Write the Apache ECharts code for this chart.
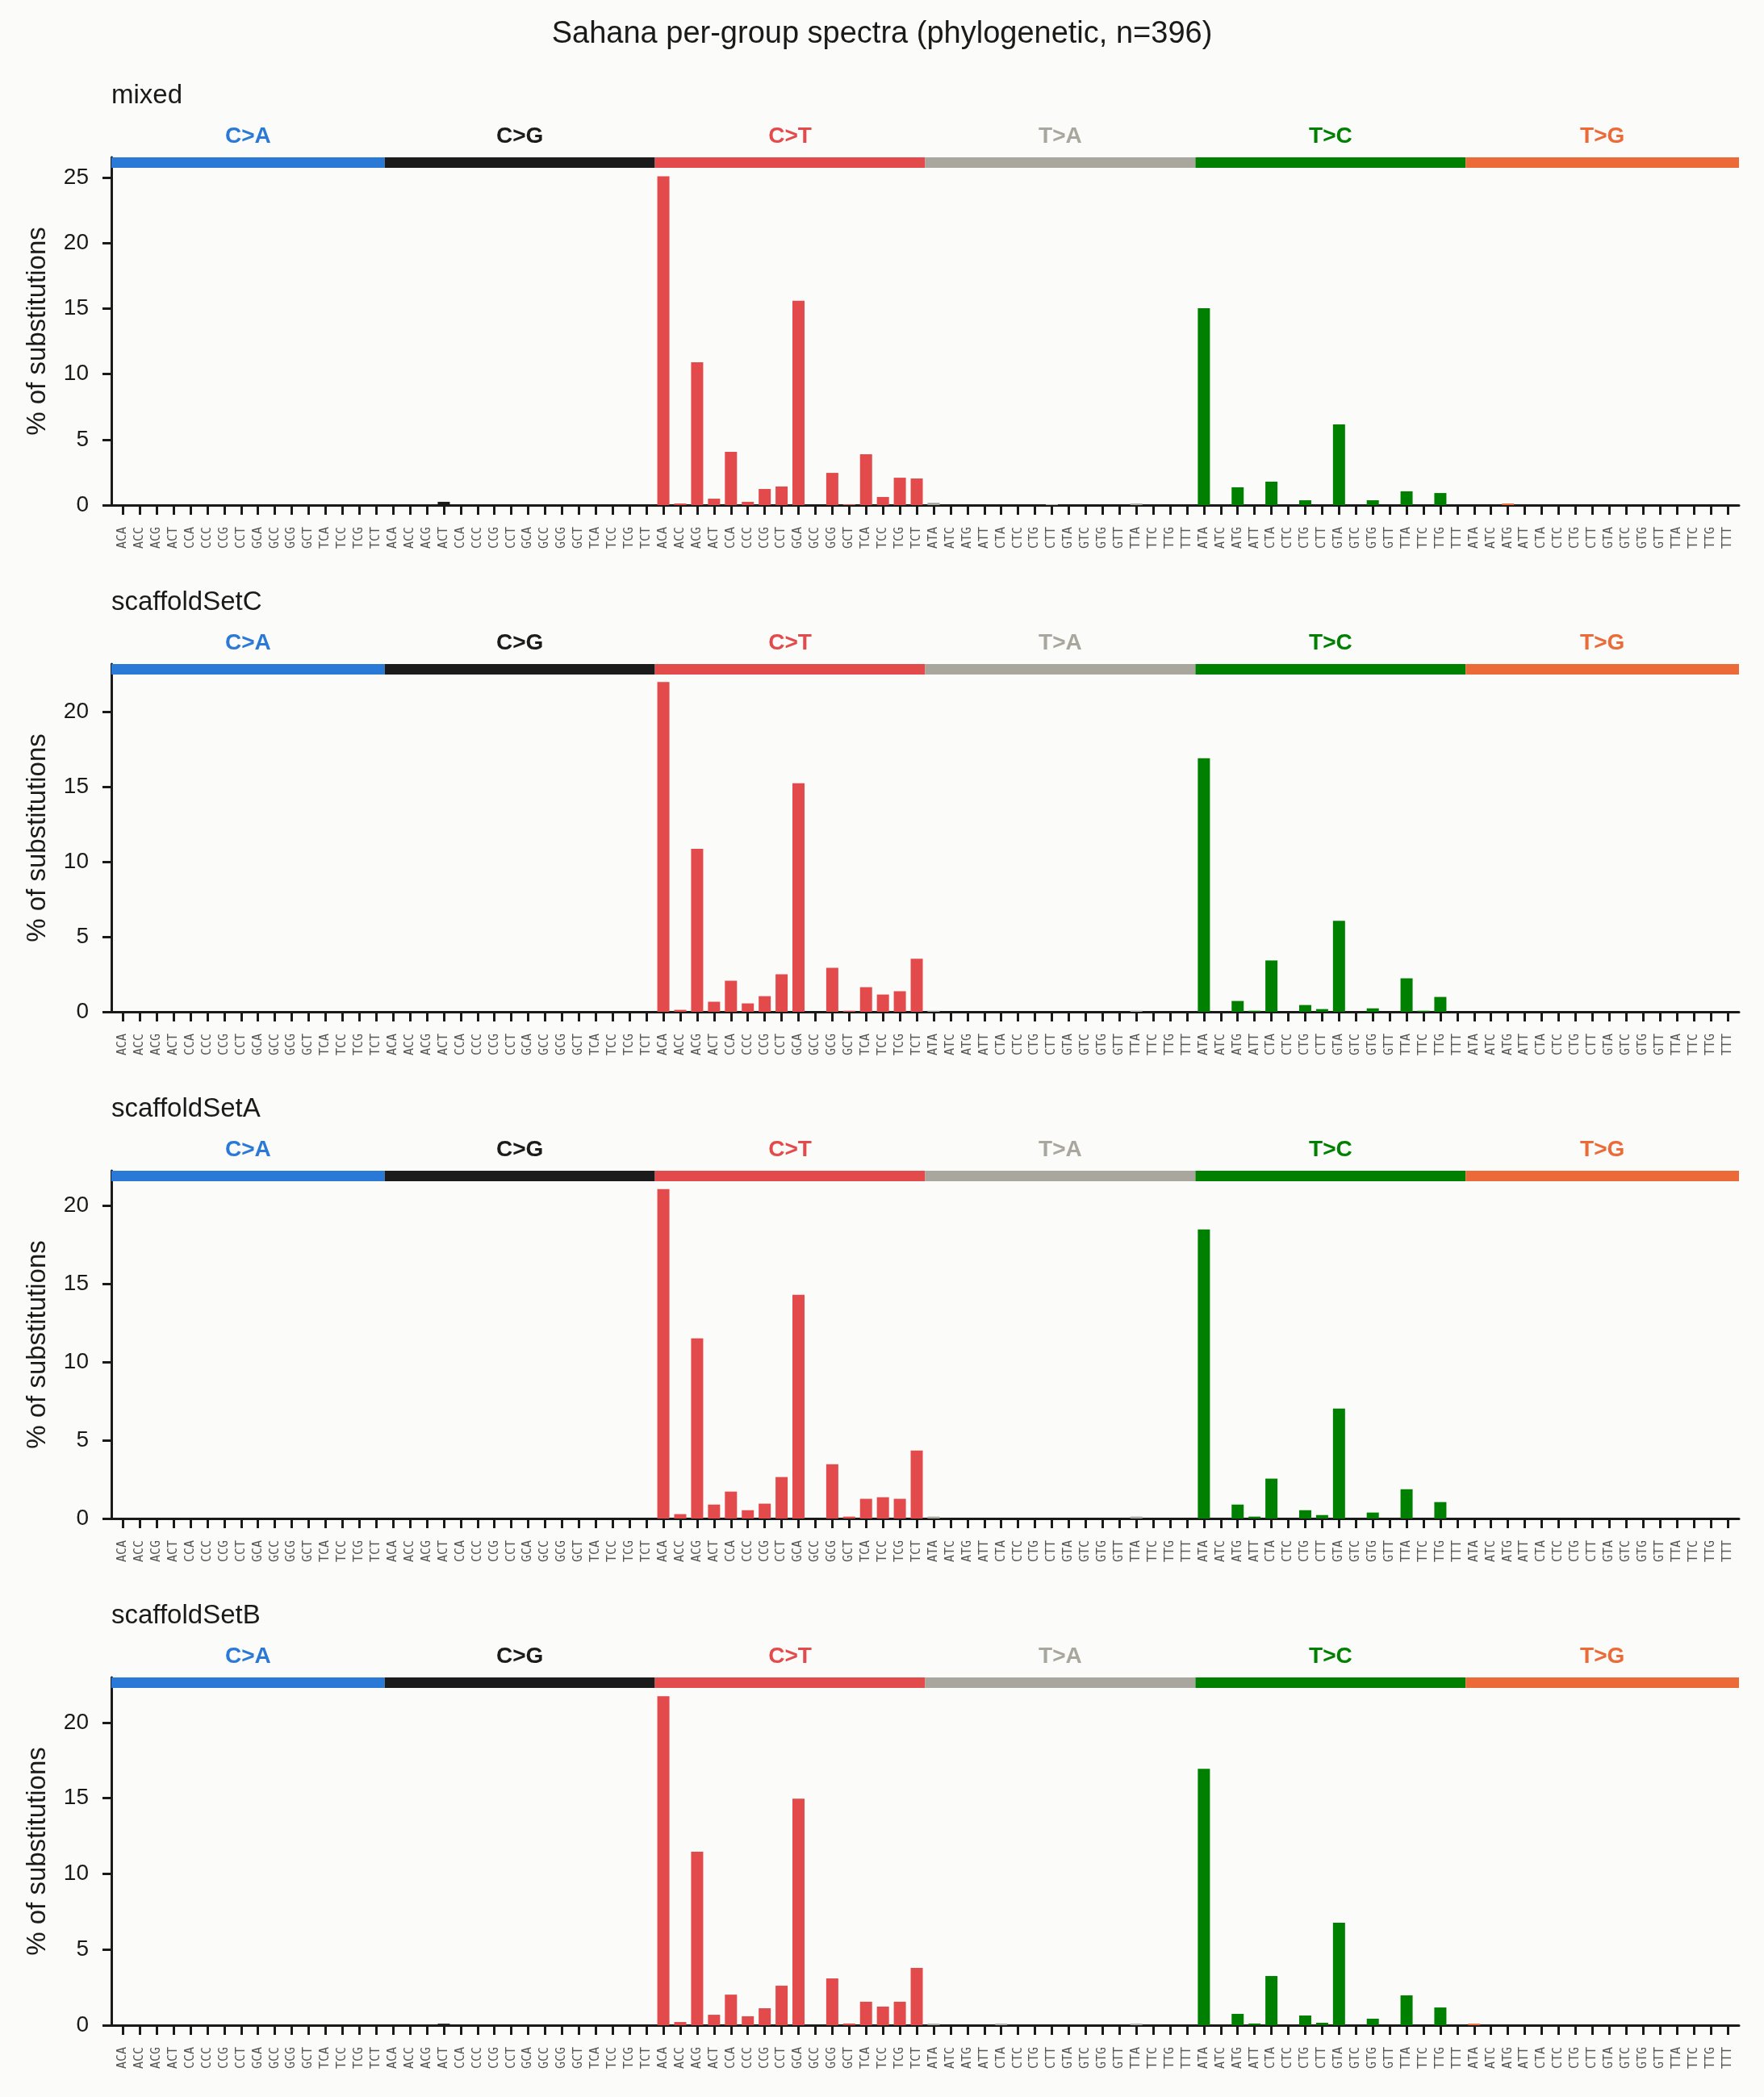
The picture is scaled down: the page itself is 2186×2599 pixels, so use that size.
<!DOCTYPE html>
<html>
<head>
  <meta charset="utf-8">
  <title>Sahana per-group spectra</title>
  <script src="https://cdn.jsdelivr.net/npm/echarts@6.0.0/dist/echarts.min.js"></script>
  <style>
    body { margin: 0; background: #fbfbf9; }
  </style>
</head>
<body>
  <div id="main" style="width: 2186px; height: 2599px;"></div>
  <script type="text/javascript">
    // 96 trinucleotide contexts, 16 per substitution type
    var contextsC = ['ACA','ACC','ACG','ACT','CCA','CCC','CCG','CCT','GCA','GCC','GCG','GCT','TCA','TCC','TCG','TCT'];
    var contextsT = ['ATA','ATC','ATG','ATT','CTA','CTC','CTG','CTT','GTA','GTC','GTG','GTT','TTA','TTC','TTG','TTT'];
    var mutationTypes = ['C>A', 'C>G', 'C>T', 'T>A', 'T>C', 'T>G'];
    var typeColors = ['#2b79d6', '#1b1b1b', '#e34a4c', '#a9a69d', '#008000', '#eb6a37'];
    var tickLabels = [].concat(contextsC, contextsC, contextsC, contextsT, contextsT, contextsT);

    var groupNames = ['mixed', 'scaffoldSetC', 'scaffoldSetA', 'scaffoldSetB'];

    // % of substitutions, one row of 16 per type: C>A, C>G, C>T, T>A, T>C, T>G
    var mixed = [
      [0,0,0,0, 0,0,0,0, 0,0,0,0, 0,0,0,0],
      [0,0,0,0.25, 0,0,0,0, 0,0,0,0, 0,0,0,0],
      [25.1,0.12,10.9,0.49, 4.07,0.25,1.23,1.42, 15.6,0,2.46,0.06, 3.88,0.62,2.09,2.03],
      [0.18,0,0,0, 0,0,0,0.06, 0,0,0,0, 0.12,0,0,0],
      [15.03,0,1.36,0, 1.79,0,0.37,0, 6.16,0,0.37,0, 1.05,0,0.92,0],
      [0,0,0.12,0, 0,0,0,0, 0,0,0,0, 0,0,0,0]
    ];
    var scaffoldSetC = [
      [0,0,0,0, 0,0,0,0, 0,0,0,0, 0,0,0,0],
      [0,0,0,0, 0,0,0,0, 0,0,0,0, 0,0,0,0],
      [21.98,0.13,10.86,0.67, 2.07,0.56,1.04,2.5, 15.23,0,2.93,0.07, 1.64,1.15,1.37,3.53],
      [0.07,0,0,0, 0,0,0,0, 0,0,0,0, 0.07,0,0,0],
      [16.9,0,0.72,0.07, 3.42,0,0.45,0.18, 6.06,0,0.23,0, 2.23,0.07,0.99,0],
      [0,0,0,0, 0,0,0,0, 0,0,0,0, 0,0,0,0]
    ];
    var scaffoldSetA = [
      [0,0,0,0, 0,0,0,0, 0,0,0,0, 0,0,0,0],
      [0,0,0,0, 0,0,0,0, 0,0,0,0, 0,0,0,0],
      [21.07,0.28,11.52,0.89, 1.72,0.53,0.95,2.65, 14.31,0,3.47,0.12, 1.26,1.36,1.26,4.35],
      [0.12,0,0,0, 0,0,0,0, 0,0,0,0, 0.12,0,0,0],
      [18.49,0,0.89,0.12, 2.55,0,0.53,0.22, 7.03,0,0.38,0, 1.87,0,1.05,0],
      [0,0,0,0, 0,0,0,0, 0,0,0,0, 0,0,0,0]
    ];
    var scaffoldSetB = [
      [0,0,0,0, 0,0,0,0, 0,0,0,0, 0,0,0,0],
      [0,0,0,0.1, 0,0,0,0, 0,0,0,0, 0,0,0,0],
      [21.74,0.21,11.46,0.69, 2.02,0.59,1.12,2.61, 14.97,0,3.09,0.11, 1.55,1.23,1.55,3.78],
      [0.1,0,0,0, 0.1,0,0,0, 0,0,0,0, 0.1,0,0,0],
      [16.94,0,0.75,0.11, 3.25,0,0.64,0.16, 6.77,0,0.43,0, 1.97,0,1.17,0],
      [0.1,0,0,0, 0,0,0,0, 0,0,0,0, 0,0,0,0]
    ];
    var groupData = [mixed, scaffoldSetC, scaffoldSetA, scaffoldSetB];
    var yMax = [26.55, 23.17, 22.24, 22.98];

    // layout (px)
    var gridTops = [195, 823, 1451, 2079];
    var gridHeight = 431;
    var xMin = -0.68, xMax = 95.68;
    var bandPx = 13;
    var textColor = '#1a1a1a';
    var font = 'Liberation Sans, Arial, sans-serif';

    var xTickValues = tickLabels.map(function (_, i) { return i; });

    var option = {
      backgroundColor: '#fbfbf9',
      animation: false,
      title: [{
        text: 'Sahana per-group spectra (phylogenetic, n=396)',
        left: 'center', top: 24, padding: 0,
        textStyle: { fontFamily: font, fontSize: 38, fontWeight: 'normal', color: textColor }
      }],
      grid: [], xAxis: [], yAxis: [], series: []
    };

    groupNames.forEach(function (name, g) {
      option.title.push({
        text: name, left: 138, top: gridTops[g] - 93, padding: 0,
        textStyle: { fontFamily: font, fontSize: 33, fontWeight: 'normal', color: textColor }
      });
      option.grid.push({ left: 138, right: 31, top: gridTops[g], height: gridHeight });
      option.xAxis.push({
        type: 'value', gridIndex: g, min: xMin, max: xMax,
        splitLine: { show: false },
        axisLine: { show: true, onZero: false, lineStyle: { color: textColor, width: 3 } },
        axisTick: { show: true, customValues: xTickValues, length: 12, lineStyle: { color: textColor, width: 3 } },
        axisLabel: {
          customValues: xTickValues, rotate: 90, margin: 27,
          fontFamily: 'DejaVu Sans Mono, monospace', fontSize: 15, color: '#555555',
          formatter: function (v) { return tickLabels[v]; }
        }
      });
      var yTicks = [];
      for (var t = 0; t <= yMax[g]; t += 5) yTicks.push(t);
      option.yAxis.push({
        type: 'value', gridIndex: g, min: 0, max: yMax[g],
        name: '% of substitutions', nameLocation: 'middle', nameGap: 75,
        nameTextStyle: { fontFamily: font, fontSize: 33, color: textColor },
        splitLine: { show: false },
        axisLine: { show: true, onZero: false, lineStyle: { color: textColor, width: 3 } },
        axisTick: { show: true, customValues: yTicks, length: 11, lineStyle: { color: textColor, width: 3 } },
        axisLabel: { customValues: yTicks, margin: 28, fontFamily: font, fontSize: 28, color: textColor }
      });

      var values = [].concat.apply([], groupData[g]);
      var bandLow = yMax[g] - bandPx * yMax[g] / gridHeight;
      var areas = mutationTypes.map(function (mt, k) {
        return [{
          name: mt,
          xAxis: k === 0 ? xMin : k * 16 - 0.5,
          yAxis: bandLow,
          itemStyle: { color: typeColors[k] },
          label: { color: typeColors[k] }
        }, {
          xAxis: k === 5 ? xMax : k * 16 + 15.5,
          yAxis: yMax[g]
        }];
      });

      option.series.push({
        type: 'bar', xAxisIndex: g, yAxisIndex: g, barWidth: 15,
        data: values.map(function (v, i) {
          return { value: [i, v], itemStyle: { color: typeColors[Math.floor(i / 16)] } };
        }),
        markArea: {
          silent: true,
          label: {
            show: true, position: 'top', distance: 12,
            fontFamily: font, fontSize: 28, fontWeight: 'bold'
          },
          emphasis: { disabled: true },
          data: areas
        }
      });
    });

    var myChart = echarts.init(document.getElementById('main'));
    myChart.setOption(option);
  </script>
</body>
</html>
